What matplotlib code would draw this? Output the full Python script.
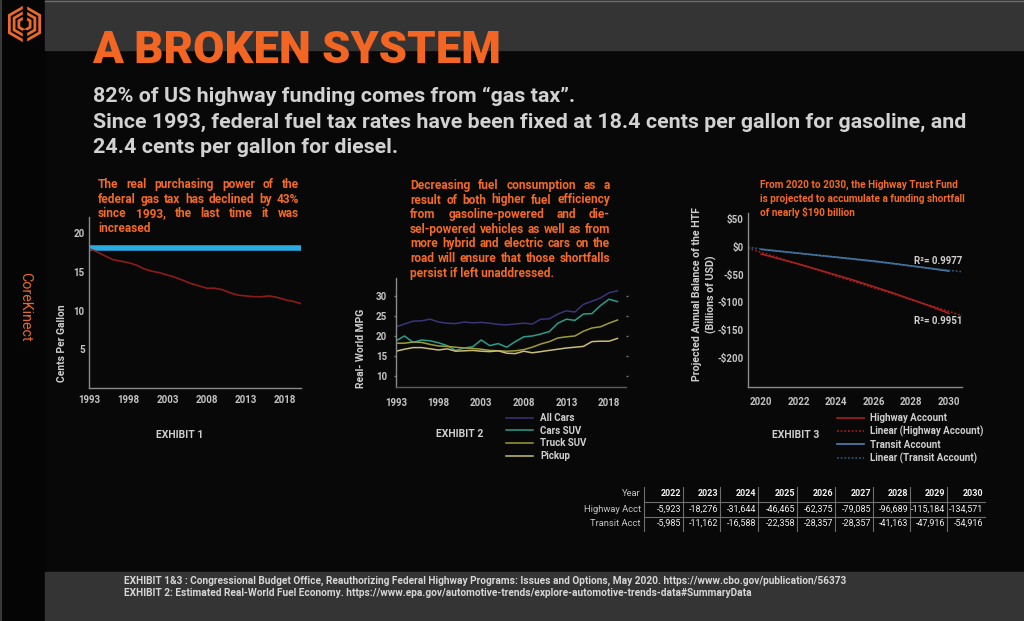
import matplotlib
matplotlib.use("Agg")
import matplotlib.pyplot as plt
from matplotlib import font_manager as fm
from matplotlib.patches import Rectangle, RegularPolygon
import numpy as np

# ---------------- data ----------------
years1 = list(range(1993, 2021))
nominal_tax = [18.1] * len(years1)
real_tax = [18.0, 17.6, 17.1, 16.6, 16.4, 16.2, 15.9, 15.4, 15.1, 14.9, 14.6, 14.3,
            13.9, 13.5, 13.2, 12.9, 12.9, 12.7, 12.3, 12.0, 11.9, 11.8, 11.8, 11.9,
            11.7, 11.4, 11.2, 10.9]
ticks1 = [1993, 1998, 2003, 2008, 2013, 2018]
yticks1 = [5, 10, 15, 20]

years2 = list(range(1993, 2020))
all_cars = [22.3, 23.0, 23.7, 23.8, 24.2, 23.5, 23.2, 23.1, 23.5, 23.3, 23.4, 23.2,
            22.9, 22.8, 23.0, 23.2, 23.0, 24.2, 24.3, 25.5, 26.3, 26.0, 27.9, 28.7,
            29.5, 30.8, 31.3]
cars_suv = [18.8, 20.0, 18.4, 19.0, 18.8, 18.3, 17.6, 16.4, 17.0, 17.3, 19.0, 17.6,
            18.1, 17.2, 18.6, 19.8, 20.0, 20.5, 21.1, 23.2, 24.2, 23.9, 25.5, 25.6,
            27.6, 29.2, 28.6]
truck_suv = [18.2, 18.2, 18.5, 18.4, 17.9, 17.5, 17.4, 17.2, 17.0, 16.9, 16.7, 16.4,
             16.3, 16.2, 16.3, 16.6, 17.2, 18.0, 18.6, 19.5, 19.8, 20.0, 21.2, 22.0,
             22.3, 23.2, 24.0]
pickup = [16.2, 16.7, 17.1, 17.1, 16.8, 16.5, 16.8, 16.2, 16.3, 16.4, 16.2, 16.1,
          16.3, 15.7, 15.6, 16.2, 15.8, 16.1, 16.4, 16.7, 17.0, 17.2, 17.4, 18.6,
          18.7, 18.7, 19.4]
ticks2 = [1993, 1998, 2003, 2008, 2013, 2018]
yticks2 = [10, 15, 20, 25, 30]
names2 = ["All Cars", "Cars SUV", "Truck SUV", "Pickup"]

years3 = list(range(2020, 2031))
highway = [-13, -22, -31, -41, -51, -61, -72, -83, -95, -107, -120]
transit = [-4.6, -8.1, -11.6, -15.2, -18.7, -22.3, -25.8, -30.0, -34.5, -39.0, -43.7]
ticks3 = [2020, 2022, 2024, 2026, 2028, 2030]
yticks3 = [50, 0, -50, -100, -150, -200]
ytick3_labels = ["\\$50", "\\$0", "-\\$50", "-\\$100", "-\\$150", "-\\$200"]
names3 = ["Highway Account", "Linear (Highway Account)", "Transit Account",
          "Linear (Transit Account)"]
r2_labels = ["R²= 0.9977", "R²= 0.9951"]

tbl_years = [2022, 2023, 2024, 2025, 2026, 2027, 2028, 2029, 2030]
tbl_highway = [-5923, -18276, -31644, -46465, -62375, -79085, -96689, -115184, -134571]
tbl_transit = [-5985, -11162, -16588, -22358, -28357, -28357, -41163, -47916, -54916]
tbl_rows = ["Year", "Highway Acct", "Transit Acct"]

# ---------------- style ----------------
W, H = 1024, 621
ORANGE = "#f26a26"
GREY_T = "#cfcfcf"
TICK_C = "#c4c4c4"
SPINE_C = "#8a8a8a"
BG = "#080808"

avail = {f.name for f in fm.fontManager.ttflist}
BOLD = "Roboto" if "Roboto" in avail else "DejaVu Sans"
NARROW = "Liberation Sans Narrow" if "Liberation Sans Narrow" in avail else BOLD

fig = plt.figure(figsize=(W / 100, H / 100), dpi=100)
fig.patch.set_facecolor(BG)
renderer = fig.canvas.get_renderer()

bg = fig.add_axes([0, 0, 1, 1], zorder=0)
bg.set_xlim(0, W)
bg.set_ylim(H, 0)
bg.axis("off")


def rect(l, t, r, b):
    return [l / W, 1 - b / H, (r - l) / W, (b - t) / H]


def tw(t):
    return t.get_window_extent(renderer).width


def natural_width(s, size, family, weight="bold"):
    t = bg.text(0, 0, s, fontsize=size, family=family, weight=weight)
    w = tw(t)
    t.remove()
    return w


def fit_size(s, width, family, weight="bold", base=10):
    return base * width / natural_width(s, base, family, weight)


def justify_block(lines, x0, x1, baselines, fs, family, color, weight="bold"):
    width = x1 - x0
    mx = max(natural_width(l, fs, family, weight) for l in lines)
    if mx > width:
        fs = fs * width / mx * 0.99
    for i, (line, y) in enumerate(zip(lines, baselines)):
        words = line.split()
        if i == len(lines) - 1 or len(words) == 1:
            bg.text(x0, y, line, fontsize=fs, family=family, weight=weight,
                    color=color, va="baseline", ha="left")
            continue
        objs = [bg.text(0, y, w_, fontsize=fs, family=family, weight=weight,
                        color=color, va="baseline", ha="left") for w_ in words]
        ws = [tw(o) for o in objs]
        gap = (width - sum(ws)) / (len(words) - 1)
        x = x0
        for o, w_ in zip(objs, ws):
            o.set_x(x)
            x += w_ + gap


# ---------------- background blocks ----------------
bg.add_patch(Rectangle((0, 0), 45, H, color="#050505", zorder=0))
bg.add_patch(Rectangle((45, 0), W - 45, 50, color="#343434", zorder=0))
bg.add_patch(Rectangle((45, 572), W - 45, H - 572, color="#343434", zorder=0))
bg.plot([1, 1], [0, H], color="#3a3a3a", lw=1.5, zorder=1)
bg.plot([45, W], [0.5, 0.5], color="#6a6a6a", lw=1, zorder=1)

# logo
cx, cy = 24.5, 24.0
for r in [17.5, 12.0, 6.5]:
    bg.add_patch(RegularPolygon((cx, cy), 6, radius=r, orientation=0, fill=False,
                                ec="#ea6a2a", lw=2.0, zorder=2))
bg.add_patch(Rectangle((cx - 1.6, cy - 19), 3.2, 13.5, color="#050505", zorder=3))
bg.add_patch(Rectangle((cx - 1.6, cy + 5.5), 3.2, 13.5, color="#050505", zorder=3))

# CoreKinect
bg.text(25, 307, "CoreKinect", rotation=-90, ha="center", va="center",
        color="#e8692a", fontsize=10.3, family=BOLD)

# ---------------- titles ----------------
title = "A BROKEN SYSTEM"
bg.text(92, 63, title, fontsize=fit_size(title, 408, BOLD, "heavy"), family=BOLD,
        weight="heavy", color="#f26522", va="baseline", ha="left", zorder=4)

sub_lines = ["82% of US highway funding comes from “gas tax”.",
             "Since 1993, federal fuel tax rates have been fixed at 18.4 cents per gallon for gasoline, and",
             "24.4 cents per gallon for diesel."]
sub_fs = fit_size(sub_lines[1], 875, BOLD)
for s, yb in zip(sub_lines, [102, 127.5, 153]):
    bg.text(93, yb, s, fontsize=sub_fs, family=BOLD, weight="bold", color="#d2d2d2",
            va="baseline", ha="left")

# annotation texts
txt1 = ["The real purchasing power of the",
        "federal gas tax has declined by 43%",
        "since 1993, the last time it was",
        "increased"]
justify_block(txt1, 98, 299, [188, 202.7, 217.3, 232], 8.6, NARROW, ORANGE)

txt2 = ["Decreasing fuel consumption as a",
        "result of both higher fuel efficiency",
        "from gasoline-powered and die-",
        "sel-powered vehicles as well as from",
        "more hybrid and electric cars on the",
        "road will ensure that those shortfalls",
        "persist if left unaddressed."]
justify_block(txt2, 410, 610, [189, 203.5, 218, 232.7, 247.3, 261.7, 276.5], 8.6,
              NARROW, ORANGE)

txt3 = ["From 2020 to 2030, the Highway Trust Fund",
        "is projected to accumulate a funding shortfall",
        "of nearly \\$190 billion"]
fs3 = fit_size(txt3[0], 198, NARROW)
for s, yb in zip(txt3, [187.5, 202, 216.5]):
    bg.text(760, yb, s, fontsize=fs3, family=NARROW, weight="bold", color=ORANGE,
            va="baseline", ha="left")


def style_axes(ax, pad_x, pad_y):
    ax.set_facecolor("none")
    for s in ["top", "right"]:
        ax.spines[s].set_visible(False)
    for s in ["left", "bottom"]:
        ax.spines[s].set_color(SPINE_C)
        ax.spines[s].set_linewidth(1.0)
    ax.tick_params(axis="x", length=0, pad=pad_x, labelsize=7, labelcolor=TICK_C)
    ax.tick_params(axis="y", length=0, pad=pad_y, labelsize=7, labelcolor=TICK_C)
    for lab in ax.get_xticklabels() + ax.get_yticklabels():
        lab.set_fontweight("bold")
        lab.set_family(BOLD)


# ---------------- panel 1 ----------------
ax1 = fig.add_axes(rect(89, 217, 301, 388), zorder=2)
ax1.plot(years1, nominal_tax, color="#29abe2", lw=4, solid_capstyle="butt")
ax1.plot(years1, real_tax, color="#8e1b1b", lw=1.2)
ax1.set_xlim(1993, 2020)
ax1.set_ylim(0, 22.1)
ax1.set_xticks(ticks1)
ax1.set_yticks(yticks1)
style_axes(ax1, 5, 3)
bg.text(62, 343, "Cents Per Gallon", rotation=90, ha="center", va="center",
        fontsize=7.4, family=BOLD, weight="bold", color=GREY_T)
bg.text(180, 435, "EXHIBIT 1", ha="center", va="center", fontsize=7.5,
        family=BOLD, weight="bold", color=GREY_T)

# ---------------- panel 2 ----------------
ax2 = fig.add_axes(rect(396, 278, 626, 387), zorder=2)
cols2 = ["#3a3478", "#2a9d8a", "#9d9c36", "#c9bd78"]
lines2 = []
for vals, c, nm in zip([all_cars, cars_suv, truck_suv, pickup], cols2, names2):
    ln, = ax2.plot(years2, vals, color=c, lw=1.1, label=nm)
    lines2.append(ln)
ax2.set_xlim(1993, 2020)
ax2.set_ylim(7.25, 34.5)
ax2.set_xticks(ticks2)
ax2.set_yticks(yticks2)
style_axes(ax2, 8, 5)
ax2.spines["bottom"].set_color("#5a5a5a")
ax2.tick_params(axis="y", right=True, left=True, length=1.5, width=1.0, color="#777777")
leg2 = ax2.legend(handles=lines2, loc="upper left", bbox_to_anchor=(506, 413),
                  bbox_transform=bg.transData, frameon=False, fontsize=7,
                  handlelength=2.8, handletextpad=0.7, labelspacing=0.28, borderpad=0,
                  borderaxespad=0)
for t in leg2.get_texts():
    t.set_color(GREY_T)
    t.set_fontweight("bold")
    t.set_family(BOLD)
bg.text(360.5, 348, "Real- World MPG", rotation=90, ha="center", va="center",
        fontsize=7.4, family=BOLD, weight="bold", color=GREY_T)
bg.text(460, 434, "EXHIBIT 2", ha="center", va="center", fontsize=7.5,
        family=BOLD, weight="bold", color=GREY_T)

# ---------------- panel 3 ----------------
ax3 = fig.add_axes(rect(748, 213, 962, 387), zorder=2)
ax3.set_xlim(2019.3, 2030.7)
ax3.set_ylim(-253, 61)
xs_fit = np.array(ax3.get_xlim())
hw_c = "#a8201e"
tr_c = "#4f83b0"
l_hw, = ax3.plot(years3, highway, color=hw_c, lw=1.2, label=names3[0])
p_hw = np.polyfit(years3, highway, 1)
l_hwf, = ax3.plot(xs_fit, np.polyval(p_hw, xs_fit), color=hw_c, lw=1.1, ls=(0, (1.2, 1.2)),
                  label=names3[1])
l_tr, = ax3.plot(years3, transit, color=tr_c, lw=1.2, label=names3[2])
p_tr = np.polyfit(years3, transit, 1)
l_trf, = ax3.plot(xs_fit, np.polyval(p_tr, xs_fit), color="#2f5a80", lw=1.1,
                  ls=(0, (1.2, 1.2)), label=names3[3])
ax3.set_xticks(ticks3)
ax3.set_yticks(yticks3)
ax3.set_yticklabels(ytick3_labels)
style_axes(ax3, 7, 3)
ax3.text(2030.7, np.polyval(p_tr, 2030.7) + 20, r2_labels[0], ha="right", va="center",
         fontsize=7, family=BOLD, weight="bold", color=GREY_T)
ax3.text(2030.7, np.polyval(p_hw, 2030.7) - 10, r2_labels[1], ha="right", va="center",
         fontsize=7, family=BOLD, weight="bold", color=GREY_T)
leg3 = ax3.legend(handles=[l_hw, l_hwf, l_tr, l_trf], loc="upper left",
                  bbox_to_anchor=(837, 413), bbox_transform=bg.transData, frameon=False,
                  fontsize=7, handlelength=2.8, handletextpad=0.6, labelspacing=0.28,
                  borderpad=0, borderaxespad=0)
for t in leg3.get_texts():
    t.set_color(GREY_T)
    t.set_fontweight("bold")
    t.set_family(BOLD)
bg.text(704.5, 294, "Projected Annual Balance of the HTF\n(Billions of USD)",
        rotation=90, ha="center", va="center", multialignment="center",
        fontsize=7.6, family=BOLD, weight="bold", color=GREY_T, linespacing=1.35)
bg.text(796, 435, "EXHIBIT 3", ha="center", va="center", fontsize=7.5,
        family=BOLD, weight="bold", color=GREY_T)

# ---------------- table ----------------
seps = [644.3, 682.7, 720, 758.3, 796.7, 835, 873.3, 910, 946.7, 985]
row_y = [494, 509.3, 523.3]
num_fs = fit_size("-134,571", 34.5, NARROW, "normal")
lab_fs = fit_size("Highway Acct", 57, NARROW, "normal")
for lab, y in zip(tbl_rows, row_y):
    bg.text(641, y, lab, ha="right", va="center", fontsize=lab_fs, family=NARROW,
            color="#c4c4c4")
for i in range(len(tbl_years)):
    xr = seps[i + 1] - 1.8
    bg.text(xr, row_y[0], str(tbl_years[i]), ha="right", va="center", fontsize=num_fs,
            family=NARROW, weight="bold", color="#f4f4f4")
    bg.text(xr, row_y[1], f"{tbl_highway[i]:,}", ha="right", va="center",
            fontsize=num_fs, family=NARROW, color="#f0f0f0")
    bg.text(xr, row_y[2], f"{tbl_transit[i]:,}", ha="right", va="center",
            fontsize=num_fs, family=NARROW, color="#f0f0f0")
for xs in seps[:-1]:
    bg.plot([xs, xs], [486.5, 531], color="#6e6e6e", lw=0.8)
for yh in [501.7, 516.7]:
    bg.plot([644.3, 985], [yh, yh], color="#6e6e6e", lw=0.8)

# ---------------- footer ----------------
foot = ["EXHIBIT 1&3 : Congressional Budget Office, Reauthorizing Federal Highway Programs: Issues and Options, May 2020. https://www.cbo.gov/publication/56373",
        "EXHIBIT 2: Estimated Real-World Fuel Economy. https://www.epa.gov/automotive-trends/explore-automotive-trends-data#SummaryData"]
foot_fs = fit_size(foot[0], 729, NARROW)
for s, yb in zip(foot, [583.5, 596.5]):
    bg.text(124, yb, s, fontsize=foot_fs, family=NARROW, weight="bold", color="#d6d6d6",
            va="baseline", ha="left")

fig.savefig("out.png", dpi=100, facecolor=fig.get_facecolor())
